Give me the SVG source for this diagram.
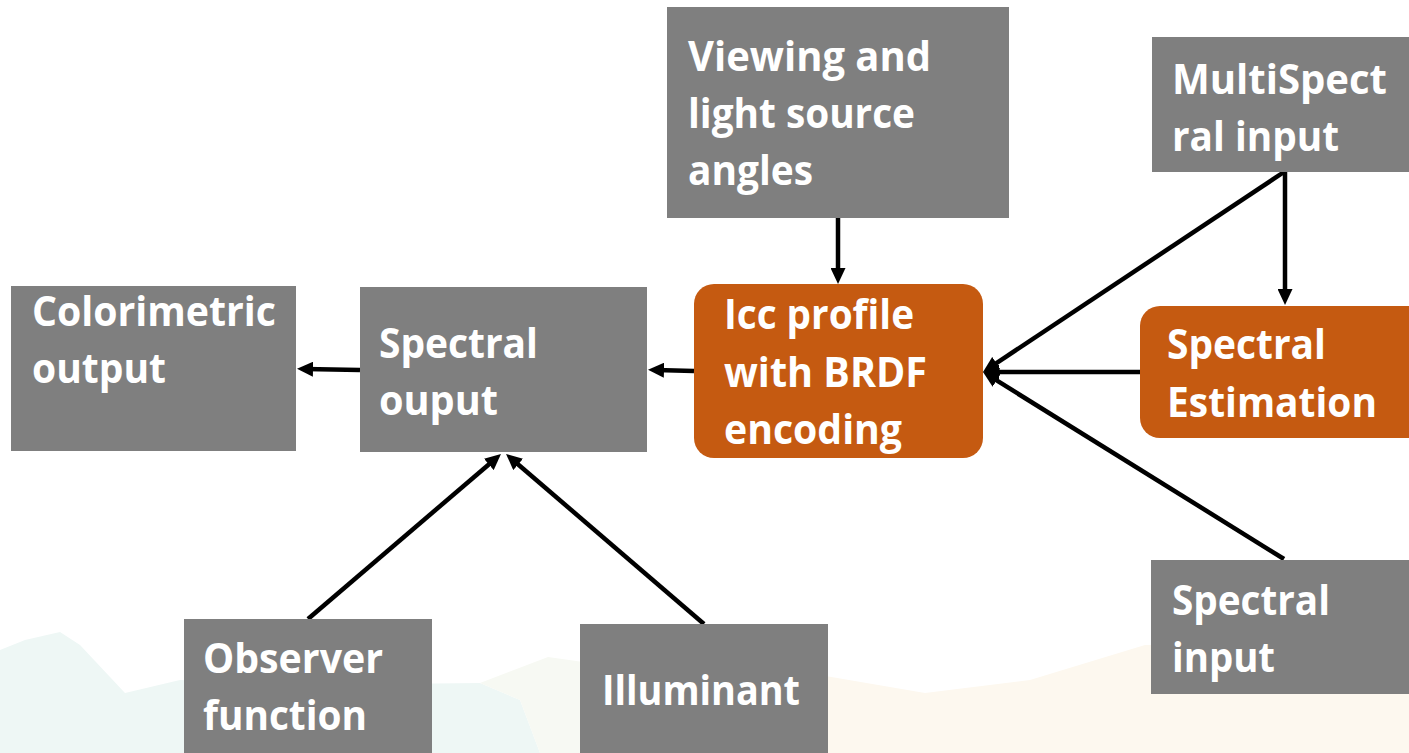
<svg xmlns="http://www.w3.org/2000/svg" width="1409" height="753" viewBox="0 0 1409 753">
<style>
.g{fill:#7f7f7f}
.o{fill:#c55a11}
.t{font-family:"Open Sans","Liberation Sans",sans-serif;font-weight:700;font-size:42px;fill:#ffffff}
.c{stroke:#000;stroke-width:4.5;fill:none;marker-end:url(#ah)}
</style>
<defs>
<marker id="ah" markerUnits="userSpaceOnUse" markerWidth="16" markerHeight="15" refX="8" refY="7.5" orient="auto">
<path d="M0,0 L16,7.5 L0,15 z" fill="#000"/>
</marker>
</defs>
<rect width="1409" height="753" fill="#ffffff"/>
<g id="background">
<polygon points="0,650 25,640 60,632 80,645 125,693 180,680 300,685 480,683 520,700 540,753 0,753" fill="#eef7f5"/>
<polygon points="480,683 548,657 640,670 808,673 830,690 830,753 540,753 520,700" fill="#f7f9f3"/>
<polygon points="808,673 925,693 1030,680 1145,645 1409,640 1409,753 808,753" fill="#fdf8ef"/>
</g>
<g id="connectors">
<line class="c" x1="360" y1="370" x2="305" y2="369"/>
<line class="c" x1="694" y1="371" x2="656" y2="370"/>
<line class="c" x1="838" y1="218" x2="838" y2="276"/>
<line class="c" x1="1284" y1="172" x2="989.7" y2="367.6"/>
<line class="c" x1="1285" y1="172" x2="1285" y2="297"/>
<line class="c" x1="1140" y1="372" x2="991" y2="372"/>
<line class="c" x1="1284" y1="559" x2="989.8" y2="376.2"/>
<line class="c" x1="308" y1="619" x2="494.9" y2="459.2"/>
<line class="c" x1="704" y1="624" x2="512.1" y2="459.2"/>
</g>
<g id="colorimetric-output">
<rect class="g" x="11" y="286" width="285" height="165"/>
<text class="t" x="32" y="326" textLength="244" lengthAdjust="spacingAndGlyphs">Colorimetric</text>
<text class="t" x="32" y="383" textLength="134" lengthAdjust="spacingAndGlyphs">output</text>
</g>
<g id="spectral-ouput">
<rect class="g" x="360" y="287" width="287" height="165"/>
<text class="t" x="379" y="358" textLength="159" lengthAdjust="spacingAndGlyphs">Spectral</text>
<text class="t" x="379" y="415" textLength="119" lengthAdjust="spacingAndGlyphs">ouput</text>
</g>
<g id="icc-profile">
<rect class="o" x="694" y="284" width="289" height="174" rx="20" ry="20"/>
<text class="t" x="724" y="329" textLength="190" lengthAdjust="spacingAndGlyphs">Icc profile</text>
<text class="t" x="724" y="387" textLength="203" lengthAdjust="spacingAndGlyphs">with BRDF</text>
<text class="t" x="724" y="444" textLength="178" lengthAdjust="spacingAndGlyphs">encoding</text>
</g>
<g id="viewing-angles">
<rect class="g" x="667" y="7" width="342" height="211"/>
<text class="t" x="688" y="71" textLength="243" lengthAdjust="spacingAndGlyphs">Viewing and</text>
<text class="t" x="688" y="128" textLength="227" lengthAdjust="spacingAndGlyphs">light source</text>
<text class="t" x="688" y="185" textLength="125" lengthAdjust="spacingAndGlyphs">angles</text>
</g>
<g id="multispectral-input">
<rect class="g" x="1152" y="37" width="270" height="135"/>
<text class="t" x="1172" y="94" textLength="215" lengthAdjust="spacingAndGlyphs">MultiSpect</text>
<text class="t" x="1172" y="151" textLength="167" lengthAdjust="spacingAndGlyphs">ral input</text>
</g>
<g id="spectral-estimation">
<rect class="o" x="1140" y="306" width="290" height="132" rx="20" ry="20"/>
<text class="t" x="1167" y="359" textLength="159" lengthAdjust="spacingAndGlyphs">Spectral</text>
<text class="t" x="1167" y="417" textLength="210" lengthAdjust="spacingAndGlyphs">Estimation</text>
</g>
<g id="spectral-input">
<rect class="g" x="1151" y="560" width="270" height="134"/>
<text class="t" x="1172" y="615" textLength="158" lengthAdjust="spacingAndGlyphs">Spectral</text>
<text class="t" x="1172" y="672" textLength="103" lengthAdjust="spacingAndGlyphs">input</text>
</g>
<g id="observer-function">
<rect class="g" x="184" y="619" width="248" height="140"/>
<text class="t" x="203" y="673" textLength="180" lengthAdjust="spacingAndGlyphs">Observer</text>
<text class="t" x="203" y="730" textLength="164" lengthAdjust="spacingAndGlyphs">function</text>
</g>
<g id="illuminant">
<rect class="g" x="580" y="624" width="248" height="135"/>
<text class="t" x="602" y="705" textLength="198" lengthAdjust="spacingAndGlyphs">Illuminant</text>
</g>
</svg>
